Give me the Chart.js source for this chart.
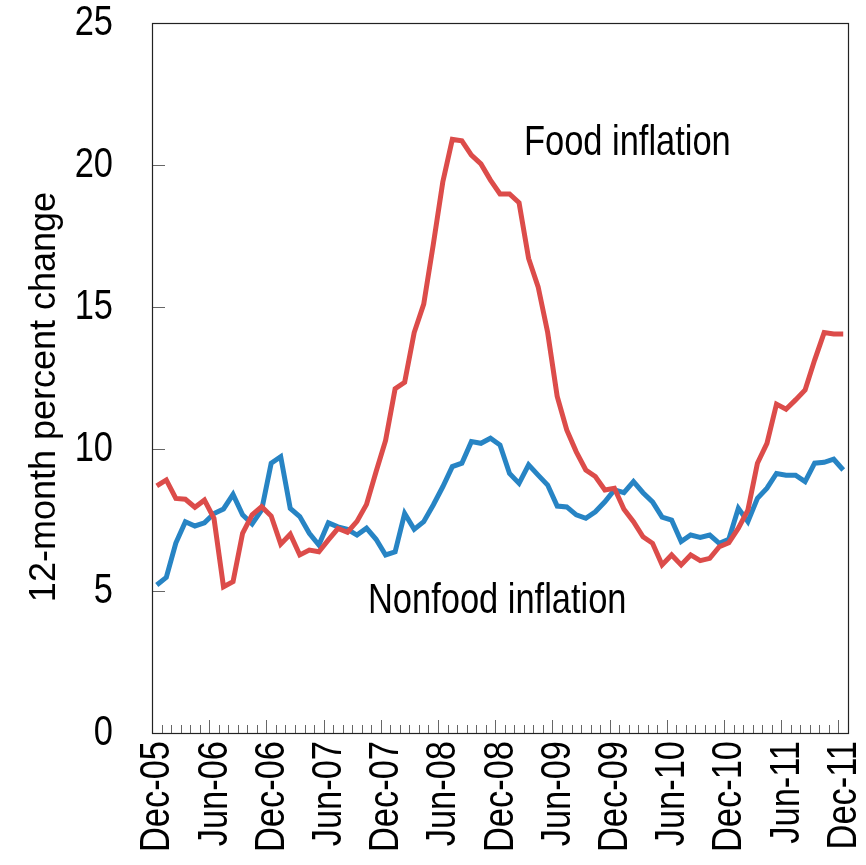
<!DOCTYPE html>
<html>
<head>
<meta charset="utf-8">
<script src="https://cdn.jsdelivr.net/npm/chart.js@4/dist/chart.umd.min.js"></script>
<style>
  html, body { margin: 0; padding: 0; background: #fff; }
  #wrap { width: 866px; height: 865px; position: relative; }
</style>
</head>
<body>
<div id="wrap"><canvas id="inflationChart"></canvas></div>
<script>
const monthNames = ["Jan", "Feb", "Mar", "Apr", "May", "Jun", "Jul", "Aug", "Sep", "Oct", "Nov", "Dec"];
const startYear = 2005;
const startMonth = 11; // Dec
const monthCount = 73;

const tickLabels = ["Dec-05", "Jun-06", "Dec-06", "Jun-07", "Dec-07", "Jun-08", "Dec-08",
  "Jun-09", "Dec-09", "Jun-10", "Dec-10", "Jun-11", "Dec-11"];
const yTicks = [0, 5, 10, 15, 20, 25];

const foodInflation = [
  8.70, 8.91, 8.26, 8.23, 7.95, 8.20, 7.56, 5.15, 5.33, 7.03, 7.68, 7.97,
  7.64, 6.65, 7.00, 6.27, 6.44, 6.38, 6.80, 7.20, 7.07, 7.45, 8.05, 9.20,
  10.30, 12.12, 12.35, 14.10, 15.10, 17.20, 19.40, 20.90, 20.85, 20.35, 20.04, 19.47,
  18.98, 18.98, 18.67, 16.71, 15.71, 14.10, 11.85, 10.67, 9.90, 9.26, 9.03, 8.56,
  8.62, 7.88, 7.44, 6.91, 6.68, 5.92, 6.27, 5.92, 6.27, 6.07, 6.15, 6.56,
  6.70, 7.21, 7.85, 9.50, 10.20, 11.58, 11.40, 11.73, 12.08, 13.13, 14.10, 14.05,
  14.05
];

const nonfoodInflation = [
  5.21, 5.48, 6.69, 7.44, 7.29, 7.40, 7.73, 7.89, 8.40, 7.68, 7.36, 7.85,
  9.50, 9.73, 7.91, 7.62, 7.03, 6.62, 7.40, 7.26, 7.17, 6.97, 7.21, 6.82,
  6.27, 6.38, 7.73, 7.17, 7.44, 8.03, 8.67, 9.38, 9.50, 10.26, 10.20, 10.38,
  10.14, 9.14, 8.79, 9.44, 9.08, 8.73, 7.99, 7.96, 7.68, 7.56, 7.79, 8.14,
  8.56, 8.46, 8.85, 8.46, 8.14, 7.60, 7.50, 6.74, 6.97, 6.89, 6.97, 6.68,
  6.82, 7.91, 7.44, 8.26, 8.62, 9.14, 9.08, 9.08, 8.85, 9.50, 9.53, 9.64,
  9.26
];

const months = [];
for (let i = 0; i < monthCount; i++) {
  const m = (startMonth + i) % 12;
  const y = startYear + Math.floor((startMonth + i) / 12);
  months.push(`${monthNames[m]}-${String(y % 100).padStart(2, "0")}`);
}

const FONT = "'Liberation Sans', Arial, sans-serif";
const NARROW = 0.82; // no Arial Narrow here, so squeeze Liberation Sans

function narrowText(ctx, text, x, y, angle, align) {
  ctx.save();
  ctx.translate(x, y);
  if (angle) ctx.rotate(angle);
  ctx.scale(NARROW, 1);
  ctx.textAlign = align;
  ctx.fillText(text, 0, 0);
  ctx.restore();
}

// frame, inward tick marks, tick labels and the in-plot text labels
const decorPlugin = {
  id: "decor",
  afterDraw(chart) {
    const { ctx, chartArea: a, scales: { x, y } } = chart;
    ctx.save();

    ctx.strokeStyle = "#666";
    ctx.lineWidth = 1;
    ctx.beginPath();
    for (let k = 1; k < monthCount; k++) {
      const px = Math.round((x.getPixelForValue(k - 1) + x.getPixelForValue(k)) / 2) + 0.5;
      const len = tickLabels.includes(months[k]) ? 13 : 8;
      ctx.moveTo(px, a.bottom);
      ctx.lineTo(px, a.bottom - len);
    }
    yTicks.slice(1, -1).forEach((v) => {
      const py = Math.round(y.getPixelForValue(v)) + 0.5;
      ctx.moveTo(a.left, py);
      ctx.lineTo(a.left + 13, py);
    });
    ctx.stroke();

    ctx.strokeStyle = "#222";
    ctx.lineWidth = 1.2;
    ctx.strokeRect(Math.round(a.left) + 0.5, Math.round(a.top) + 0.5,
      Math.round(a.right - a.left), Math.round(a.bottom - a.top));

    ctx.fillStyle = "#000";
    ctx.font = `42px ${FONT}`;

    ctx.textBaseline = "middle";
    yTicks.forEach((v) => {
      narrowText(ctx, String(v), a.left - 39, y.getPixelForValue(v), 0, "right");
    });
    months.forEach((lbl, i) => {
      if (!tickLabels.includes(lbl)) return;
      narrowText(ctx, lbl, x.getPixelForValue(i) + 1, a.bottom + 8, -Math.PI / 2, "right");
    });

    ctx.textBaseline = "alphabetic";
    narrowText(ctx, "Food inflation", 524, 155, 0, "left");
    narrowText(ctx, "Nonfood inflation", 368, 613, 0, "left");

    ctx.font = `36px ${FONT}`;
    ctx.translate(55, 397);
    ctx.rotate(-Math.PI / 2);
    ctx.textAlign = "center";
    ctx.fillText("12-month percent change", 0, 0);
    ctx.restore();
  }
};

new Chart(document.getElementById("inflationChart"), {
  type: "line",
  data: {
    labels: months,
    datasets: [
      {
        label: "Food inflation",
        data: foodInflation,
        borderColor: "#dc4c4a",
        borderWidth: 5,
        pointRadius: 0,
        tension: 0,
        fill: false
      },
      {
        label: "Nonfood inflation",
        data: nonfoodInflation,
        borderColor: "#2784c4",
        borderWidth: 5,
        pointRadius: 0,
        tension: 0,
        fill: false
      }
    ]
  },
  options: {
    responsive: true,
    maintainAspectRatio: false,
    animation: false,
    layout: { padding: { top: 23, right: 18, left: 0, bottom: 0 } },
    plugins: { legend: { display: false }, tooltip: { enabled: false } },
    scales: {
      x: {
        type: "category",
        offset: true,
        grid: { display: false },
        border: { display: false },
        ticks: { display: false },
        afterFit(scale) {
          scale.height = 132;
          scale.paddingLeft = 0;
          scale.paddingRight = 0;
        }
      },
      y: {
        min: 0,
        max: 25,
        grid: { display: false },
        border: { display: false },
        ticks: { display: false, stepSize: 5 },
        afterFit(scale) {
          scale.width = 152;
          scale.paddingTop = 0;
          scale.paddingBottom = 0;
        }
      }
    }
  },
  plugins: [decorPlugin]
});
</script>
</body>
</html>
